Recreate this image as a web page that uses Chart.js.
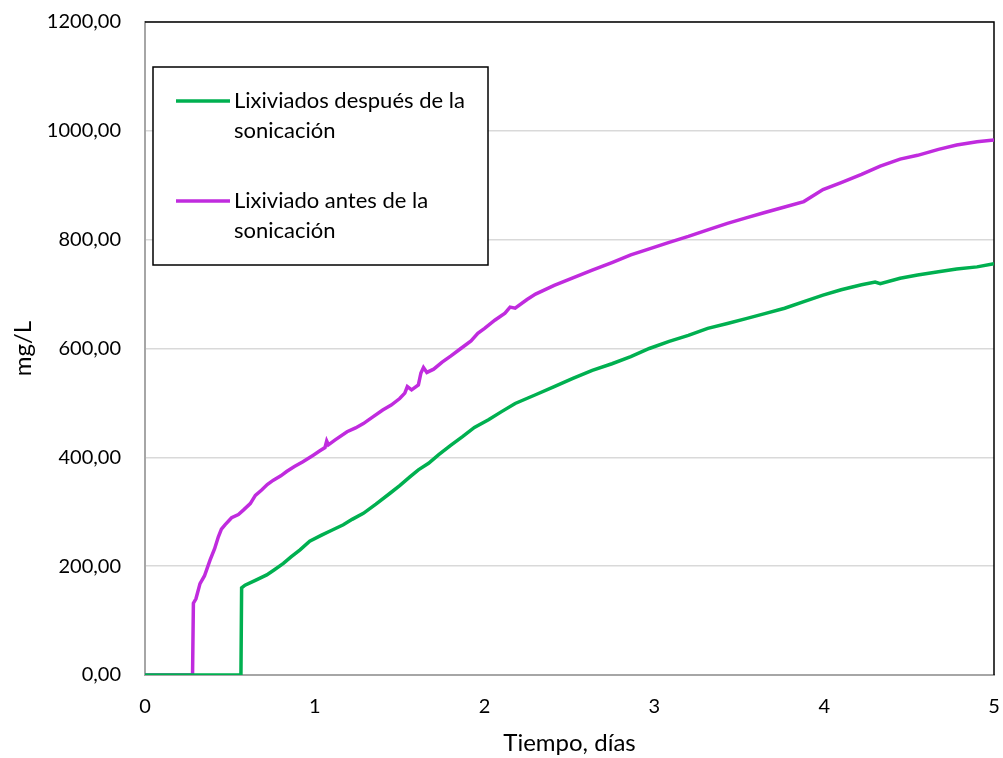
<!DOCTYPE html>
<html>
<head>
<meta charset="utf-8">
<script src="https://cdn.jsdelivr.net/npm/chart.js@4.4.1/dist/chart.umd.min.js"></script>
<style>
  html, body { margin: 0; padding: 0; background: #ffffff; }
  #wrap { width: 1003px; height: 758px; }
</style>
</head>
<body>
<div id="wrap"><canvas id="chart" width="1003" height="758"></canvas></div>
<script>
  // Series data (x = days, y = mg/L)
  const despuesX = [0, 0.565, 0.569, 0.589, 0.65, 0.717, 0.76, 0.815, 0.86, 0.913, 0.97, 1.04, 1.10, 1.168, 1.22, 1.286, 1.36, 1.443, 1.50, 1.56, 1.61, 1.67, 1.73, 1.80, 1.87, 1.94, 2.023, 2.10, 2.18, 2.30, 2.41, 2.52, 2.634, 2.75, 2.861, 2.97, 3.087, 3.20, 3.314, 3.43, 3.54, 3.65, 3.767, 3.88, 3.993, 4.10, 4.22, 4.30, 4.33, 4.447, 4.55, 4.673, 4.78, 4.9, 5.0];
  const despuesY = [0, 0, 160, 165, 174, 184, 193, 205, 217, 230, 246, 257, 266, 276, 286, 297, 314, 334, 348, 364, 377, 389, 405, 422, 438, 455, 469, 484, 499, 515, 530, 545, 560, 572, 585, 600, 613, 624, 637, 646, 655, 664, 674, 686, 698, 708, 717, 722, 719, 729, 735, 741, 746, 750, 756];

  const antesX = [0, 0.28, 0.285, 0.30, 0.324, 0.35, 0.383, 0.41, 0.432, 0.45, 0.471, 0.51, 0.55, 0.579, 0.62, 0.65, 0.687, 0.72, 0.756, 0.80, 0.834, 0.88, 0.93, 0.991, 1.03, 1.06, 1.07, 1.08, 1.12, 1.19, 1.24, 1.286, 1.34, 1.40, 1.45, 1.50, 1.53, 1.545, 1.57, 1.61, 1.625, 1.64, 1.66, 1.70, 1.75, 1.80, 1.86, 1.92, 1.96, 2.00, 2.06, 2.12, 2.15, 2.18, 2.25, 2.30, 2.41, 2.52, 2.634, 2.75, 2.861, 2.97, 3.087, 3.20, 3.314, 3.43, 3.54, 3.65, 3.767, 3.88, 3.993, 4.10, 4.22, 4.33, 4.447, 4.55, 4.673, 4.78, 4.9, 5.0];
  const antesY = [0, 0, 132, 140, 168, 182, 211, 232, 254, 268, 276, 289, 295, 303, 315, 330, 340, 350, 358, 366, 374, 383, 392, 404, 412, 418, 430, 423, 432, 447, 454, 462, 474, 487, 496, 508, 518, 530, 524, 533, 555, 565, 556, 562, 575, 586, 600, 614, 628, 637, 652, 665, 676, 674, 690, 700, 716, 730, 744, 758, 772, 783, 795, 806, 818, 830, 840, 850, 860, 870, 892, 905, 920, 935, 948, 955, 966, 974, 980, 983];

  const seriesLabels = [
    ['Lixiviados después de la', 'sonicación'],
    ['Lixiviado antes de la', 'sonicación']
  ];
  const seriesColors = ['#00b050', '#c02bde'];
  const xTicks = [0, 1, 2, 3, 4, 5];
  const yTicks = [0, 200, 400, 600, 800, 1000, 1200];

  function toPoints(xs, ys) {
    return xs.map((x, i) => ({ x: x, y: ys[i] }));
  }

  // Top/right frame of the plot area (left/bottom come from the axes)
  const frame = {
    id: 'frame',
    beforeDatasetsDraw(chart) {
      const { ctx, chartArea: a } = chart;
      ctx.save();
      ctx.strokeStyle = '#000000';
      ctx.lineWidth = 1.5;
      ctx.beginPath();
      ctx.moveTo(a.left, a.top);
      ctx.lineTo(a.right, a.top);
      ctx.lineTo(a.right, a.bottom);
      ctx.stroke();
      ctx.restore();
    }
  };

  // Boxed legend with two-line labels
  const boxLegend = {
    id: 'boxLegend',
    afterDraw(chart) {
      const ctx = chart.ctx;
      const box = { x: 153, y: 67, w: 335, h: 198 };
      ctx.save();
      ctx.fillStyle = '#ffffff';
      ctx.fillRect(box.x, box.y, box.w, box.h);
      ctx.strokeStyle = '#000000';
      ctx.lineWidth = 1.5;
      ctx.strokeRect(box.x, box.y, box.w, box.h);
      ctx.font = '22px Lato';
      ctx.textBaseline = 'middle';
      ctx.textAlign = 'left';
      chart.data.datasets.forEach((ds, i) => {
        const y0 = 101 + i * 100;
        ctx.strokeStyle = ds.borderColor;
        ctx.lineWidth = 3.5;
        ctx.beginPath();
        ctx.moveTo(176, y0);
        ctx.lineTo(230, y0);
        ctx.stroke();
        ctx.fillStyle = '#000000';
        ds.label.forEach((line, j) => {
          ctx.fillText(line, 234, y0 + j * 30);
        });
      });
      ctx.restore();
    }
  };

  new Chart(document.getElementById('chart'), {
    type: 'scatter',
    data: {
      datasets: [
        {
          label: seriesLabels[0],
          data: toPoints(despuesX, despuesY),
          showLine: true,
          borderColor: seriesColors[0],
          backgroundColor: seriesColors[0],
          borderWidth: 3.5,
          pointRadius: 0,
          tension: 0
        },
        {
          label: seriesLabels[1],
          data: toPoints(antesX, antesY),
          showLine: true,
          borderColor: seriesColors[1],
          backgroundColor: seriesColors[1],
          borderWidth: 3.5,
          pointRadius: 0,
          tension: 0
        }
      ]
    },
    options: {
      responsive: false,
      animation: false,
      layout: { padding: { left: 0, top: 22, right: 9, bottom: 0 } },
      plugins: {
        legend: { display: false },
        tooltip: { enabled: false }
      },
      scales: {
        x: {
          type: 'linear',
          min: 0,
          max: 5,
          afterFit: (s) => { s.height = 83; s.paddingLeft = 0; s.paddingRight = 0; },
          afterBuildTicks: (s) => { s.ticks = xTicks.map(v => ({ value: v })); },
          grid: { display: false, drawTicks: false },
          border: { display: true, color: '#a6a6a6', width: 2 },
          ticks: {
            color: '#000000',
            padding: 20,
            font: { family: 'Lato', size: 20 }
          },
          title: {
            display: true,
            text: 'Tiempo, días',
            color: '#000000',
            padding: { top: 0, bottom: 0 },
            font: { family: 'Lato', size: 24 }
          }
        },
        y: {
          min: 0,
          max: 1200,
          afterFit: (s) => { s.width = 145; s.paddingTop = 0; s.paddingBottom = 0; },
          afterBuildTicks: (s) => { s.ticks = yTicks.map(v => ({ value: v })); },
          grid: { color: '#d9d9d9', lineWidth: 1.5, drawTicks: false },
          border: { display: true, color: '#a6a6a6', width: 2 },
          ticks: {
            color: '#000000',
            padding: 24,
            font: { family: 'Lato', size: 20 },
            callback: (v) => v.toFixed(2).replace('.', ',')
          },
          title: {
            display: true,
            text: 'mg/L',
            color: '#000000',
            padding: { top: 9, bottom: 0 },
            font: { family: 'Lato', size: 24 }
          }
        }
      }
    },
    plugins: [frame, boxLegend]
  });
</script>
</body>
</html>
